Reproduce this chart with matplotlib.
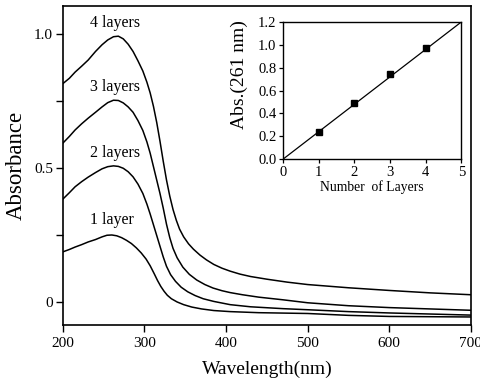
import matplotlib
matplotlib.use("Agg")
import matplotlib.pyplot as plt

plt.rcParams['font.family'] = ['Liberation Serif', 'DejaVu Serif']

# ---- main spectra (wavelength nm, absorbance) ----
wl_4 = [200, 208, 215, 223, 231, 240, 248, 255, 262, 268, 274, 280, 286, 292, 298, 303, 307, 311, 315, 319, 323, 327, 331, 335, 339, 343, 348, 354, 360, 368, 376, 385, 395, 405, 417, 430, 450, 475, 500, 550, 600, 650, 700]
ab_4 = [0.815, 0.835, 0.858, 0.880, 0.903, 0.935, 0.960, 0.978, 0.990, 0.992, 0.982, 0.962, 0.935, 0.900, 0.862, 0.820, 0.780, 0.730, 0.670, 0.600, 0.525, 0.455, 0.395, 0.345, 0.305, 0.272, 0.243, 0.217, 0.197, 0.175, 0.157, 0.140, 0.126, 0.115, 0.104, 0.095, 0.085, 0.074, 0.065, 0.053, 0.043, 0.034, 0.027]

wl_3 = [200, 208, 215, 223, 231, 240, 248, 255, 262, 268, 274, 280, 286, 292, 298, 303, 307, 311, 315, 319, 323, 327, 331, 335, 340, 347, 355, 364, 374, 384, 395, 405, 420, 440, 470, 500, 550, 600, 650, 700]
ab_3 = [0.593, 0.618, 0.642, 0.665, 0.686, 0.708, 0.728, 0.744, 0.753, 0.752, 0.743, 0.728, 0.708, 0.677, 0.640, 0.597, 0.555, 0.505, 0.455, 0.405, 0.350, 0.290, 0.240, 0.200, 0.165, 0.130, 0.103, 0.082, 0.065, 0.052, 0.042, 0.035, 0.027, 0.018, 0.008, -0.003, -0.014, -0.021, -0.026, -0.031]

wl_2 = [200, 208, 215, 223, 231, 240, 248, 255, 262, 268, 274, 280, 286, 292, 298, 303, 307, 311, 315, 319, 323, 327, 332, 338, 345, 353, 362, 372, 385, 405, 430, 470, 500, 550, 600, 650, 700]
ab_2 = [0.384, 0.408, 0.430, 0.449, 0.466, 0.483, 0.497, 0.505, 0.508, 0.506, 0.499, 0.486, 0.467, 0.440, 0.405, 0.365, 0.328, 0.288, 0.248, 0.208, 0.168, 0.133, 0.102, 0.077, 0.055, 0.038, 0.024, 0.012, 0.002, -0.010, -0.018, -0.025, -0.029, -0.036, -0.041, -0.045, -0.049]

wl_1 = [200, 208, 215, 223, 231, 240, 248, 254, 260, 266, 272, 278, 284, 290, 296, 302, 307, 312, 316, 320, 324, 328, 333, 340, 348, 358, 370, 385, 405, 440, 500, 550, 600, 650, 700]
ab_1 = [0.187, 0.196, 0.205, 0.214, 0.224, 0.233, 0.243, 0.249, 0.250, 0.247, 0.240, 0.230, 0.218, 0.202, 0.183, 0.160, 0.135, 0.105, 0.080, 0.058, 0.040, 0.025, 0.012, 0.000, -0.010, -0.019, -0.026, -0.032, -0.036, -0.040, -0.043, -0.050, -0.054, -0.055, -0.056]

curve_labels = ["4 layers", "3 layers", "2 layers", "1 layer"]
label_pos = [(264, 1.041), (264, 0.803), (264, 0.555), (260, 0.306)]

x_ticks = [200, 300, 400, 500, 600, 700]
y_ticks = [0, 0.25, 0.5, 0.75, 1.0]
y_ticklabels = ["0", "", "0.5", "", "1.0"]

# ---- inset data ----
n_layers = [1, 2, 3, 4]
abs_261 = [0.235, 0.49, 0.745, 0.975]
fit_x = [0, 5]
fit_y = [0.0, 1.2]
inset_xticks = [0, 1, 2, 3, 4, 5]
inset_yticks = [0.0, 0.2, 0.4, 0.6, 0.8, 1.0, 1.2]

fig = plt.figure(figsize=(4.8, 3.86), dpi=100)
ax = fig.add_axes([0.131, 0.158, 0.850, 0.826])

for wl, ab in [(wl_4, ab_4), (wl_3, ab_3), (wl_2, ab_2), (wl_1, ab_1)]:
    ax.plot(wl, ab, color='black', lw=1.1)
for lab, (lx, ly) in zip(curve_labels, label_pos):
    ax.text(lx, ly, lab, ha='center', va='center', fontsize=11.5)

ax.set_xlim(200, 700)
ax.set_ylim(-0.086, 1.104)
ax.set_xticks(x_ticks)
ax.set_yticks(y_ticks)
ax.set_yticklabels(y_ticklabels)
ax.tick_params(direction='out', length=5, width=1.0, labelsize=11)
ax.tick_params(axis='y', pad=2)
ax.set_xlabel("Wavelength(nm)", fontsize=14, labelpad=8)
ax.set_ylabel("Absorbance", fontsize=16.5, labelpad=5)
for s in ax.spines.values():
    s.set_linewidth(1.2)

ins = fig.add_axes([0.590, 0.588, 0.371, 0.355])
ins.plot(fit_x, fit_y, color='black', lw=0.9)
ins.plot(n_layers, abs_261, 's', color='black', ms=5)
ins.set_xlim(0, 5)
ins.set_ylim(0, 1.2)
ins.set_xticks(inset_xticks)
ins.set_yticks(inset_yticks)
ins.set_yticklabels([f"{v:.1f}" for v in inset_yticks])
ins.tick_params(direction='out', length=3, width=0.9, labelsize=10.5, pad=2)
ins.set_xlabel("Number  of Layers", fontsize=9.8, labelpad=1)
ins.set_ylabel("Abs.(261 nm)", fontsize=14)
ins.yaxis.set_label_coords(-0.20, 0.62)
for s in ins.spines.values():
    s.set_linewidth(1.0)

fig.savefig("out.png", dpi=100)
